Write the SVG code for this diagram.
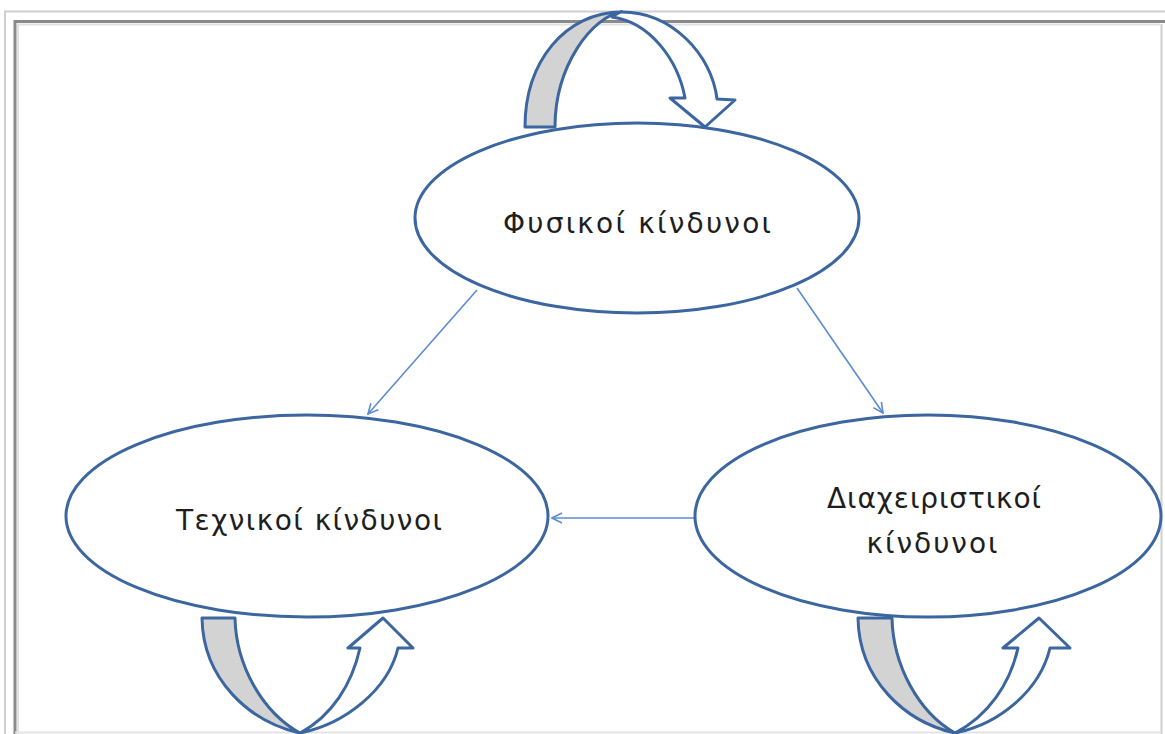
<svg xmlns="http://www.w3.org/2000/svg" width="1165" height="734" viewBox="0 0 1165 734">
  <defs>
    <style>
      .node { fill: #ffffff; stroke: #3c669f; stroke-width: 3; }
      .label { font-family: "DejaVu Sans", "Liberation Sans", sans-serif; font-size: 28px; fill: #1e1e1e; text-anchor: middle; }
      .link { fill: none; stroke: #5b8cd0; stroke-width: 1.6; marker-end: url(#open-head); }
      .loop-back { fill: #d3d3d3; stroke: #3c669f; stroke-width: 3; stroke-linejoin: round; }
      .loop-front { fill: #ffffff; stroke: #3c669f; stroke-width: 3; stroke-linejoin: round; }
    </style>
    <marker id="open-head" viewBox="0 0 12 12" refX="11" refY="6" markerWidth="12" markerHeight="12" markerUnits="userSpaceOnUse" orient="auto">
      <path d="M1,1 L11,6 L1,11" fill="none" stroke="#5b8cd0" stroke-width="1.6"/>
    </marker>
  </defs>

  <rect width="1165" height="734" fill="#ffffff"/>

  <!-- frame -->
  <g id="frame" fill="none">
    <path d="M5,734 V11.5 H1165" stroke="#cfcfcf" stroke-width="2"/>
    <path d="M15,734 V21.5 H1165" stroke="#8a8a8a" stroke-width="3"/>
    <path d="M18,734 V24.5 H1160" stroke="#e2e2e2" stroke-width="2"/>
    <path d="M1161.5,24 V734" stroke="#d0d0d0" stroke-width="2"/>
    <path d="M15,732.5 H1161" stroke="#e4e4e4" stroke-width="2"/>
  </g>

  <!-- connectors -->
  <g id="connectors">
    <line class="link" x1="477" y1="290" x2="368" y2="414"/>
    <line class="link" x1="797" y1="288" x2="883" y2="413"/>
    <line class="link" x1="694" y1="518" x2="552" y2="518"/>
  </g>

  <!-- self loop above the top node -->
  <g id="loop-physical">
    <path class="loop-back" d="M525,127 C525,62 565,12 622,12 C592,16 555,66 555,127 Z"/>
    <path class="loop-front" d="M622,12 C672,12 712,55 717,99 L735,100 L705,127 L670,98 L685,98 C678,60 650,22 612,17 C616,14 619,12 622,12 Z"/>
  </g>

  <!-- self loop below the left node -->
  <g id="loop-technical">
    <path class="loop-back" d="M202,618 L235,618 C236,665 262,712 300,733 C250,722 203,680 202,618 Z"/>
    <path class="loop-front" d="M300,733 C345,724 388,690 398,648 L413,648 L383,618 L348,648 L360,648 C352,684 332,716 300,733 Z"/>
  </g>

  <!-- self loop below the right node -->
  <g id="loop-managerial">
    <path class="loop-back" d="M858,618 L892,618 C893,665 918,712 955,733 C905,722 859,680 858,618 Z"/>
    <path class="loop-front" d="M955,733 C1000,724 1040,690 1050,648 L1070,648 L1039,618 L1003,648 L1018,648 C1010,684 988,716 955,733 Z"/>
  </g>

  <!-- nodes -->
  <g id="node-physical">
    <ellipse class="node" cx="637" cy="218" rx="222" ry="95"/>
    <text class="label" x="637" y="233" textLength="268" lengthAdjust="spacing">Φυσικοί κίνδυνοι</text>
  </g>
  <g id="node-technical">
    <ellipse class="node" cx="307" cy="516" rx="241" ry="101"/>
    <text class="label" x="309" y="530" textLength="266" lengthAdjust="spacing">Τεχνικοί κίνδυνοι</text>
  </g>
  <g id="node-managerial">
    <ellipse class="node" cx="928" cy="516" rx="233" ry="101"/>
    <text class="label" x="934" y="508" textLength="214" lengthAdjust="spacing">Διαχειριστικοί</text>
    <text class="label" x="932" y="553" textLength="131" lengthAdjust="spacing">κίνδυνοι</text>
  </g>
</svg>
